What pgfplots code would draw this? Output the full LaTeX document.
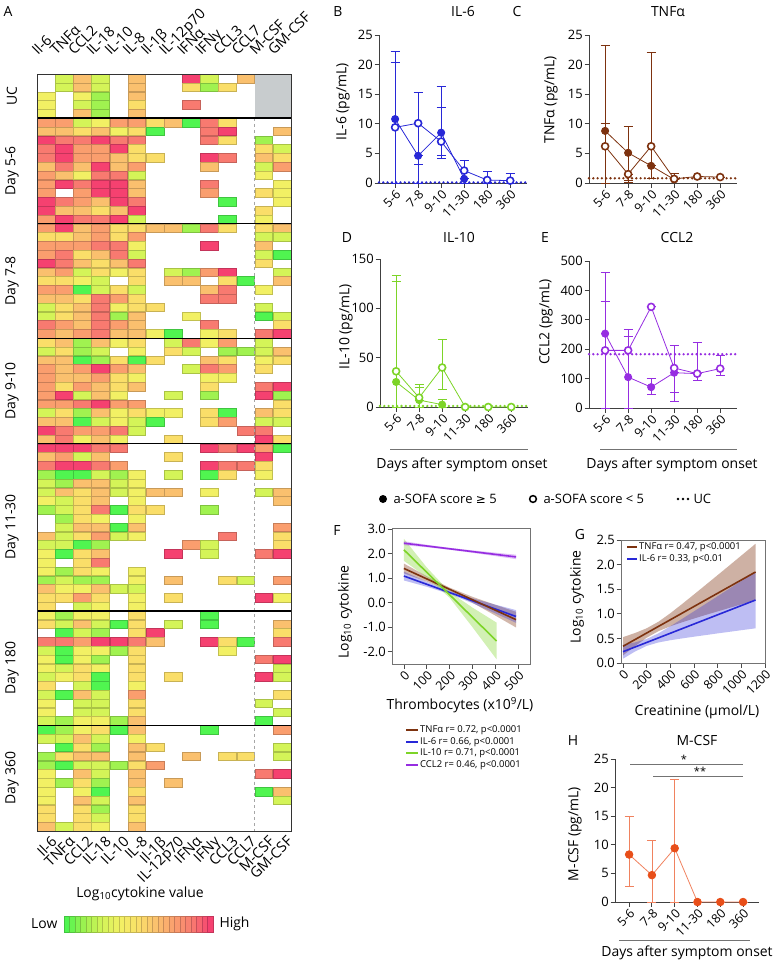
\documentclass[border=0pt]{standalone}
\usepackage{pgfplots}
\pgfplotsset{compat=1.18}
\usepackage{pgfplotstable}
\usepackage{fontspec}
\setmainfont{Open Sans}
\newfontfamily\dejavu{DejaVu Sans}
\newcommand\fs[1]{\fontsize{#1}{#1}\selectfont}

\definecolor{cIL6}{RGB}{40,40,215}
\definecolor{cTNF}{RGB}{125,50,15}
\definecolor{cIL10}{RGB}{125,212,40}
\definecolor{cCCL2}{RGB}{150,45,225}
\definecolor{cMCSF}{RGB}{232,78,25}
\definecolor{cMCSFl}{RGB}{240,130,95}
\definecolor{ucgray}{RGB}{200,204,206}

\pgfplotsset{
  /pgf/number format/assume math mode=true,
  colormap={heat}{rgb255=(80,245,80) rgb255=(160,242,80) rgb255=(212,244,88) rgb255=(242,240,100) rgb255=(250,222,105) rgb255=(250,192,110) rgb255=(250,158,110) rgb255=(248,122,112) rgb255=(245,65,112)},
  gp/.style={scale only axis, axis x line=bottom, axis y line=left,
    axis line style={-, line width=0.9bp, black!75}, tick style={line width=0.9bp, black!75},
    tick align=outside, major tick length=4.5bp,
    xtick={0,...,5}, xticklabels={5-6,7-8,9-10,11-30,180,360},
    xticklabel style={rotate=45, anchor=north east, font=\fs{12.5}, inner sep=1bp},
    yticklabel style={font=\fs{13}, inner sep=1.5bp},
    clip=false, xmin=-0.7, xmax=5.73, width=148bp, ymin=0},
  closed/.style={#1, line width=0.8bp, mark=*, mark size=3.6bp,
    mark options={fill=#1, draw=#1, solid, line width=0.8bp},
    error bars/.cd, y dir=both, y explicit, error bar style={line width=0.8bp, #1},
    error mark options={rotate=90, #1, line width=0.8bp, mark size=4.5bp}},
  open/.style={#1, line width=0.8bp, mark=*, mark size=3.5bp,
    mark options={fill=white, draw=#1, solid, line width=1.6bp},
    error bars/.cd, y dir=both, y explicit, error bar style={line width=0.8bp, #1},
    error mark options={rotate=90, #1, line width=0.8bp, mark size=4.5bp}},
  mcsf/.style={cMCSFl, line width=0.8bp, mark=*, mark size=3.8bp,
    mark options={fill=cMCSF, draw=cMCSF, solid, line width=0.8bp},
    error bars/.cd, y dir=both, y explicit, error bar style={line width=0.8bp, cMCSFl},
    error mark options={rotate=90, cMCSFl, line width=0.8bp, mark size=4.5bp}},
  ucline/.style={#1, line width=2.6bp, line cap=round, dash pattern=on 0bp off 4.3bp},
  reg/.style={scale only axis, axis line style={black!55, line width=0.8bp},
    tick style={black!70, line width=0.8bp}, tick align=outside, major tick length=4.5bp,
    tick pos=left, xticklabel style={rotate=45, anchor=north east, font=\fs{12.5}, inner sep=1bp},
    yticklabel style={font=\fs{13}, inner sep=1.5bp}},
}

\pgfplotstableread{
c0 c1 c2 c3 c4 c5 c6 c7 c8 c9 c10 c11 c12 c13
0 3 6 3 0 6 0 0 9 3 0 6 0 0
0 3 6 3 0 6 0 0 5 2 5 0 0 0
4 0 4 2 0 6 0 0 0 0 0 0 0 0
4 0 3 2 0 5 0 0 8 0 0 0 0 0
4 0 6 2 0 6 0 0 0 0 0 0 0 0
7 7 3 4 7 7 5 6 1 8 5 0 0 0
6 6 5 6 4 5 1 0 0 8 9 0 0 6
9 8 8 9 8 8 0 0 0 8 5 0 2 0
8 9 7 7 9 5 0 0 0 0 0 0 5 3
8 9 7 7 6 5 5 0 0 9 8 0 6 5
6 8 6 9 6 7 0 0 0 6 0 0 3 7
7 6 4 8 8 3 0 0 0 0 0 0 4 0
7 9 8 9 9 6 0 0 0 8 0 0 0 4
7 0 7 9 9 6 0 0 0 7 0 0 5 4
9 8 7 6 9 8 0 0 0 0 1 0 0 4
9 6 6 5 6 9 0 0 0 0 0 0 5 0
7 9 8 8 9 3 0 0 0 0 1 0 4 0
7 9 6 7 5 5 6 6 2 8 5 0 5 6
5 5 6 7 5 7 0 0 0 0 0 0 3 3
7 7 7 8 8 4 0 0 0 9 0 0 6 0
7 8 5 6 8 3 0 0 0 0 0 0 3 1
9 8 6 5 6 8 0 0 0 0 0 0 5 0
6 7 3 5 4 5 0 3 2 7 9 0 0 3
5 5 4 3 0 5 0 6 6 0 5 1 0 6
7 7 1 3 5 3 0 0 0 6 8 0 4 0
6 6 5 8 7 5 0 0 0 8 8 0 0 0
3 5 6 8 4 5 5 0 0 0 0 0 3 0
3 5 6 8 2 6 0 0 4 0 0 0 1 3
8 7 6 8 7 6 0 0 0 8 0 0 0 5
7 6 7 8 6 6 4 1 0 4 5 0 8 9
5 6 2 6 4 5 0 3 8 4 7 0 3 0
3 5 2 3 0 4 0 5 3 0 2 2 3 6
6 6 1 2 5 1 5 0 0 6 5 0 4 5
7 6 7 9 7 6 0 0 3 8 7 0 5 0
7 6 6 7 5 4 0 0 0 4 4 0 0 0
7 5 7 6 5 6 0 0 0 5 0 0 8 9
7 9 3 6 4 0 0 3 0 2 0 0 9 2
7 7 8 9 7 7 0 0 0 0 0 0 0 5
3 5 2 6 4 5 4 4 0 5 1 0 6 5
6 6 1 3 4 3 1 0 0 5 7 0 3 3
9 8 7 7 8 3 0 0 0 0 0 8 8 0
6 8 4 6 4 0 0 5 0 0 0 0 9 5
9 9 9 8 8 0 0 0 0 9 8 9 7 1
6 7 3 6 0 0 0 5 0 0 0 0 9 0
8 9 9 8 7 0 0 0 0 9 8 8 5 0
2 1 1 3 2 4 0 3 0 1 5 0 4 0
3 2 6 6 3 4 0 0 0 0 0 0 0 0
3 6 5 6 3 4 6 6 0 4 0 0 3 6
4 3 5 6 0 4 0 0 0 0 0 0 0 6
2 3 5 8 1 5 5 0 0 2 0 0 0 0
0 2 5 4 0 4 0 0 0 0 0 0 0 0
0 3 6 6 1 6 0 0 0 0 0 0 0 7
6 3 5 7 3 4 0 0 0 0 8 0 0 5
3 3 1 2 0 0 0 0 7 3 0 0 0 5
4 1 5 6 0 0 0 9 0 3 0 0 8 9
4 0 5 8 0 0 0 0 0 0 0 0 0 0
4 2 5 4 0 4 0 0 0 0 0 0 0 0
2 3 2 2 0 4 0 6 0 0 5 3 0 7
6 4 4 6 3 3 0 0 0 0 0 0 0 0
5 5 7 5 0 4 0 5 0 0 0 0 9 4
5 0 3 4 0 4 0 0 0 0 0 0 0 0
4 2 4 4 0 5 0 0 0 1 0 0 0 0
5 3 6 3 1 5 0 3 0 1 0 0 0 6
0 1 3 2 0 5 9 0 0 0 0 0 0 5
8 8 7 9 9 8 6 0 0 9 5 1 0 8
3 1 4 4 2 5 0 0 0 0 4 0 0 0
4 1 4 2 0 5 0 0 0 0 0 0 8 9
4 3 5 4 0 5 0 0 0 0 0 0 0 3
3 4 5 1 0 5 0 5 0 0 0 0 9 3
5 0 3 1 0 4 0 0 0 0 0 0 0 0
3 1 6 3 0 7 0 0 0 0 0 0 0 5
4 0 3 3 0 5 0 0 0 0 0 0 3 0
4 0 3 3 0 5 0 0 0 0 0 0 0 3
3 2 4 4 2 6 0 0 0 0 0 0 1 0
1 2 4 5 1 6 0 0 0 1 0 0 0 7
3 3 6 3 0 4 0 0 0 0 0 0 0 0
0 1 5 2 0 6 5 0 0 0 0 0 0 3
2 5 6 6 0 6 0 0 6 0 5 5 0 3
2 1 3 3 2 5 7 0 0 0 0 0 0 0
4 0 6 3 0 6 0 0 0 0 0 0 8 9
4 2 5 2 0 6 0 6 0 0 0 0 0 0
4 0 4 1 0 5 0 0 0 0 0 0 1 6
4 0 6 3 0 6 0 0 0 0 0 0 0 3
5 0 5 2 0 5 0 0 0 0 0 0 0 0
5 0 5 3 0 5 0 0 0 0 0 0 0 0
6 3 5 4 0 6 0 0 0 0 0 0 0 0
}\heat

\begin{document}
\begin{tikzpicture}
\useasboundingbox (0,0) rectangle (775bp,-963bp);

% ---------------- Panel A: heatmap ----------------
\begin{axis}[at={(37bp,-831bp)}, anchor=south west, scale only axis, width=254bp, height=757bp,
  xmin=-0.5, xmax=13.5, ymin=-0.5, ymax=85.5, y dir=reverse, xtick=\empty, ytick=\empty,
  axis line style={draw=none},
  colormap name=heat, point meta min=1, point meta max=9]
\fill[ucgray] (axis cs:11.5,-0.5) rectangle (axis cs:13.5,4.5);
\pgfplotsinvokeforeach{0,...,13}{
  \addplot[scatter, only marks, mark=square*, mark size=4.3bp, mark options={xscale=2.07},
    point meta=explicit, restrict y to domain=-1:100]
    table[x expr=#1, y expr={\thisrow{c#1}==0 ? -50 : \coordindex}, meta=c#1] {\heat};
}
\end{axis}
\draw[black!35, dashed, line width=0.6bp] (254.7bp,-118bp) -- (254.7bp,-831bp);
\foreach \yy in {118.0,223.6,338.1,443.7,610.9,725.4}{
  \draw[black, line width=1.2bp] (37bp,{-\yy*1bp}) -- (291bp,{-\yy*1bp});
}
\draw[black!80, line width=0.9bp] (37bp,-74bp) rectangle (291bp,-831bp);

\node[font=\fs{14}] at (8bp,-12bp) {A};
\foreach \k/\lab in {0/Il-6,1/TNFα,2/CCL2,3/IL-18,4/IL-10,5/IL-8,6/Il-1β,7/IL-12p70,8/IFNα,9/IFNγ,10/CCL3,11/CCL7,12/M-CSF,13/GM-CSF}{
  \node[rotate=45, anchor=base west, font=\fs{14.5}, inner sep=0pt] at ({(37+18.143*(\k+0.5)-8)*1bp},-56bp) {\lab};
  \node[rotate=45, anchor=north east, font=\fs{14.5}, inner sep=0pt] at ({(37+18.143*(\k+0.5)+4)*1bp},-835bp) {\lab};
}
\node[rotate=90, font=\fs{14}] at (12bp,-96bp) {UC};
\node[rotate=90, font=\fs{14}] at (12bp,-171bp) {Day 5-6};
\node[rotate=90, font=\fs{14}] at (12bp,-281bp) {Day 7-8};
\node[rotate=90, font=\fs{14}] at (12bp,-391bp) {Day 9-10};
\node[rotate=90, font=\fs{14}] at (12bp,-527bp) {Day 11-30};
\node[rotate=90, font=\fs{14}] at (12bp,-668bp) {Day 180};
\node[rotate=90, font=\fs{14}] at (12bp,-778bp) {Day 360};
\node[font=\fs{14}] at (140bp,-894bp) {Log\textsubscript{10}cytokine value};
\node[anchor=east, font=\fs{14}] at (61bp,-924bp) {Low};
\node[anchor=west, font=\fs{14}] at (216bp,-924bp) {High};

\begin{axis}[at={(64bp,-932bp)}, anchor=south west, scale only axis, width=149bp, height=16bp,
  xmin=0.5, xmax=27.5, ymin=-0.5, ymax=0.5, hide axis, colormap name=heat, point meta min=1, point meta max=9]
\addplot[scatter, only marks, mark=square*, mark size=8bp, mark options={xscale=0.35}, point meta=explicit]
  table[x=x, y expr=0, meta=m] {
x m
1 1.00
2 1.31
3 1.62
4 1.92
5 2.23
6 2.54
7 2.85
8 3.15
9 3.46
10 3.77
11 4.08
12 4.38
13 4.69
14 5.00
15 5.31
16 5.62
17 5.92
18 6.23
19 6.54
20 6.85
21 7.15
22 7.46
23 7.77
24 8.08
25 8.38
26 8.69
27 9.00
};
\end{axis}

% ---------------- Panel B: IL-6 ----------------
\begin{axis}[gp, at={(379bp,-183bp)}, anchor=south west, height=148bp, ymax=25, ytick={0,5,...,25}]
\addplot[ucline=cIL6] coordinates {(-0.7,0.1) (5.73,0.1)};
\addplot[closed=cIL6] coordinates {(0,10.8) += (0,11.4) -= (0,10.8) (1,4.6) += (0,0) -= (0,1.5) (2,8.5) += (0,7.9) -= (0,3.8) (3,0.7) += (0,0) -= (0,0)};
\addplot[open=cIL6] coordinates {(0,9.4) += (0,10.9) -= (0,9.4) (1,10.1) += (0,5.2) -= (0,10.1) (2,7.0) += (0,5.8) -= (0,2.9) (3,2.1) += (0,1.8) -= (0,2.1) (4,0.5) += (0,1.5) -= (0,0.5) (5,0.4) += (0,1.2) -= (0,0.4)};
\end{axis}
\node[font=\fs{14}] at (338bp,-12bp) {B};
\node[font=\fs{14}] at (463bp,-12bp) {IL-6};
\node[rotate=90, font=\fs{14}] at (343bp,-102bp) {IL-6 (pg/mL)};

% ---------------- Panel C: TNFa ----------------
\begin{axis}[gp, at={(589bp,-183bp)}, anchor=south west, height=148bp, ymax=25, ytick={0,5,...,25}]
\addplot[ucline=cTNF] coordinates {(-0.7,0.8) (5.73,0.8)};
\addplot[closed=cTNF] coordinates {(0,8.8) += (0,14.5) -= (0,8.8) (1,5.1) += (0,4.5) -= (0,5.0) (2,2.9) += (0,0) -= (0,0) (3,0.6) += (0,1.1) -= (0,0)};
\addplot[open=cTNF] coordinates {(0,6.2) += (0,3.9) -= (0,6.2) (1,1.5) += (0,0) -= (0,1.0) (2,6.2) += (0,15.8) -= (0,5.4) (3,0.7) += (0,1.0) -= (0,0) (4,1.1) += (0,0) -= (0,0) (5,1.0) += (0,0) -= (0,0)};
\end{axis}
\node[font=\fs{14}] at (517bp,-12bp) {C};
\node[font=\fs{14}] at (668bp,-12bp) {TNFα};
\node[rotate=90, font=\fs{14}] at (551bp,-100bp) {TNFα (pg/mL)};

% ---------------- Panel D: IL-10 ----------------
\begin{axis}[gp, at={(380bp,-407bp)}, anchor=south west, height=148bp, ymax=150, ytick={0,50,100,150}]
\addplot[ucline=cIL10] coordinates {(-0.7,1) (5.73,1)};
\addplot[closed=cIL10] coordinates {(0,25.4) += (0,102) -= (0,25.4) (1,7) += (0,13) -= (0,0) (2,2.4) += (0,5.1) -= (0,2.4)};
\addplot[open=cIL10] coordinates {(0,36.2) += (0,97.6) -= (0,36.2) (1,9.5) += (0,13.5) -= (0,9.5) (2,40) += (0,28.4) -= (0,22) (3,0) += (0,0) -= (0,0) (4,0) += (0,0) -= (0,0) (5,0) += (0,0) -= (0,0)};
\end{axis}
\node[font=\fs{14}] at (347bp,-238bp) {D};
\node[font=\fs{14}] at (459bp,-238bp) {IL-10};
\node[rotate=90, font=\fs{14}] at (346bp,-327bp) {IL-10 (pg/mL)};
\draw[black!55, line width=0.8bp] (390bp,-449bp) -- (528bp,-449bp);
\node[font=\fs{14}] at (462bp,-465bp) {Days after symptom onset};

% ---------------- Panel E: CCL2 ----------------
\begin{axis}[gp, at={(589bp,-408bp)}, anchor=south west, height=147bp, ymax=500, ytick={0,100,...,500}]
\addplot[ucline=cCCL2] coordinates {(-0.7,183) (5.73,183)};
\addplot[closed=cCCL2] coordinates {(0,253) += (0,207) -= (0,253) (1,105) += (0,161) -= (0,105) (2,71) += (0,31) -= (0,25) (3,120) += (0,0) -= (0,96) (4,117) += (0,0) -= (0,0)};
\addplot[open=cCCL2] coordinates {(0,196) += (0,166) -= (0,196) (1,196) += (0,48) -= (0,196) (2,344) += (0,0) -= (0,0) (3,136) += (0,77) -= (0,82) (4,117) += (0,107) -= (0,23) (5,134) += (0,44) -= (0,22)};
\end{axis}
\node[font=\fs{14}] at (545bp,-238bp) {E};
\node[font=\fs{14}] at (677bp,-238bp) {CCL2};
\node[rotate=90, font=\fs{14}] at (546bp,-322bp) {CCL2 (pg/mL)};
\draw[black!55, line width=0.8bp] (600bp,-449bp) -- (737bp,-449bp);
\node[font=\fs{14}] at (672bp,-465bp) {Days after symptom onset};

% ---------------- legend row ----------------
\fill (383bp,-499bp) circle (4bp);
\node[anchor=west, font=\fs{13}] at (390bp,-499bp) {a-SOFA score {\dejavu\fs{12}≥} 5};
\draw[line width=1.5bp] (533bp,-499bp) circle (3.4bp);
\node[anchor=west, font=\fs{13}] at (540bp,-499bp) {a-SOFA score < 5};
\fill (678bp,-499bp) circle (1.3bp);
\fill (683bp,-499bp) circle (1.3bp);
\fill (688bp,-499bp) circle (1.3bp);
\node[anchor=west, font=\fs{13}] at (690bp,-499bp) {UC};

% ---------------- Panel F ----------------
\begin{axis}[reg, at={(392bp,-664bp)}, anchor=south west, width=138bp, height=136bp,
  xmin=-52, xmax=551, ymin=-2.5, ymax=3.05, xtick={0,100,...,500}, xticklabels={0,100,200,300,400,500},
  ytick={-2,...,3}, yticklabels={-2.0,-1.0,0.0,1.0,2.0,3.0}]
\addplot[fill=cTNF, fill opacity=0.35, draw=none] coordinates {(0,1.60) (100,1.084) (200,0.617) (300,0.240) (400,-0.086) (490,-0.37) (490,-1.01) (400,-0.526) (300,0.000) (200,0.477) (100,0.864) (0,1.20)};
\addplot[fill=cIL6, fill opacity=0.3, draw=none] coordinates {(0,1.27) (100,0.853) (200,0.477) (300,0.18) (400,-0.077) (490,-0.30) (490,-0.82) (400,-0.437) (300,-0.02) (200,0.357) (100,0.653) (0,0.91)};
\addplot[fill=cIL10, fill opacity=0.35, draw=none] coordinates {(0,2.61) (100,1.44) (200,0.44) (300,-0.20) (405,-0.81) (405,-2.31) (300,-1.00) (200,0.20) (100,1.04) (0,1.71)};
\addplot[fill=cCCL2, fill opacity=0.3, draw=none] coordinates {(0,2.51) (100,2.366) (200,2.241) (300,2.137) (400,2.043) (490,1.96) (490,1.78) (400,1.903) (300,2.037) (200,2.161) (100,2.266) (0,2.35)};
\addplot[cIL6, line width=1.6bp] coordinates {(0,1.09) (490,-0.56)};
\addplot[cTNF, line width=1.6bp] coordinates {(0,1.40) (490,-0.69)};
\addplot[cIL10, line width=1.6bp] coordinates {(0,2.16) (405,-1.56)};
\addplot[cCCL2, line width=1.6bp] coordinates {(0,2.43) (490,1.87)};
\end{axis}
\node[font=\fs{14}] at (337bp,-531bp) {F};
\node[rotate=90, font=\fs{14}] at (345bp,-612bp) {Log\textsubscript{10} cytokine};
\node[font=\fs{14}] at (460bp,-705bp) {Thrombocytes (x10\textsuperscript{9}/L)};
\draw[cTNF, line width=1.5bp] (406bp,-730bp) -- (418bp,-730bp);
\node[anchor=west, font=\fs{9.5}, inner sep=1bp] at (419bp,-730bp) {TNFα r= 0.72, p<0.0001};
\draw[cIL6, line width=1.5bp] (406bp,-742bp) -- (418bp,-742bp);
\node[anchor=west, font=\fs{9.5}, inner sep=1bp] at (419bp,-742bp) {IL-6 r= 0.66, p<0.0001};
\draw[cIL10, line width=1.5bp] (406bp,-753bp) -- (418bp,-753bp);
\node[anchor=west, font=\fs{9.5}, inner sep=1bp] at (419bp,-753bp) {IL-10 r= 0.71, p<0.0001};
\draw[cCCL2, line width=1.5bp] (406bp,-765bp) -- (418bp,-765bp);
\node[anchor=west, font=\fs{9.5}, inner sep=1bp] at (419bp,-765bp) {CCL2 r= 0.46, p<0.0001};

% ---------------- Panel G ----------------
\begin{axis}[reg, at={(621bp,-663bp)}, anchor=south west, width=144bp, height=123bp,
  xmin=-17, xmax=1200, ymin=0, ymax=2.5, xtick={0,200,...,1200}, xticklabels={0,200,400,600,800,1000,1200},
  ytick={0,0.5,...,2.5}, yticklabels={0.0,0.5,1.0,1.5,2.0,2.5}]
\addplot[fill=cTNF, fill opacity=0.38, draw=none] coordinates {(0,0.526) (100,0.608) (200,0.706) (300,0.840) (400,1.012) (500,1.200) (600,1.394) (700,1.590) (800,1.787) (900,1.985) (1000,2.184) (1120,2.423) (1120,1.277) (1000,1.192) (900,1.121) (800,1.049) (700,0.978) (600,0.904) (500,0.828) (400,0.746) (300,0.648) (200,0.514) (100,0.342) (0,0.154)};
\addplot[fill=cIL6, fill opacity=0.3, draw=none] coordinates {(0,0.372) (100,0.417) (200,0.488) (300,0.604) (400,0.747) (500,0.898) (600,1.051) (700,1.204) (800,1.358) (900,1.514) (1000,1.669) (1120,1.855) (1120,0.705) (1000,0.667) (900,0.634) (800,0.602) (700,0.568) (600,0.535) (500,0.500) (400,0.463) (300,0.418) (200,0.348) (100,0.231) (0,0.088)};
\addplot[cTNF, line width=1.6bp] coordinates {(0,0.34) (1120,1.85)};
\addplot[cIL6, line width=1.6bp] coordinates {(0,0.23) (1120,1.28)};
\end{axis}
\node[font=\fs{14}] at (580bp,-535bp) {G};
\node[rotate=90, font=\fs{14}] at (577bp,-597bp) {Log\textsubscript{10} cytokine};
\node[font=\fs{14}] at (697bp,-712bp) {Creatinine (µmol/L)};
\draw[cTNF, line width=1.5bp] (627bp,-547bp) -- (637bp,-547bp);
\node[anchor=west, font=\fs{9.5}, inner sep=1bp] at (638bp,-547bp) {TNFα r= 0.47, p<0.0001};
\draw[cIL6, line width=1.5bp] (627bp,-559bp) -- (637bp,-559bp);
\node[anchor=west, font=\fs{9.5}, inner sep=1bp] at (638bp,-559bp) {IL-6 r= 0.33, p<0.01};

% ---------------- Panel H: M-CSF ----------------
\begin{axis}[gp, at={(615bp,-902bp)}, anchor=south west, width=144bp, height=143bp, xmin=-0.62, xmax=5.70, ymax=25, ytick={0,5,...,25}]
\addplot[mcsf] coordinates {(0,8.3) += (0,6.6) -= (0,5.6) (1,4.7) += (0,6.0) -= (0,4.7) (2,9.4) += (0,12.1) -= (0,9.4) (3,0) += (0,0) -= (0,0) (4,0) += (0,0) -= (0,0) (5,0) += (0,0) -= (0,0)};
\end{axis}
\node[font=\fs{14}] at (573bp,-741bp) {H};
\node[font=\fs{14}] at (697bp,-741bp) {M-CSF};
\node[rotate=90, font=\fs{14}] at (575bp,-834bp) {M-CSF (pg/mL)};
\draw[black!55, line width=0.7bp] (630bp,-764bp) -- (743bp,-764bp);
\node[font=\fs{11}] at (684bp,-759bp) {*};
\draw[black!55, line width=0.7bp] (653bp,-776bp) -- (743bp,-776bp);
\node[font=\fs{11}] at (700bp,-771bp) {**};
\draw[black!55, line width=0.8bp] (619bp,-940bp) -- (750bp,-940bp);
\node[font=\fs{14}] at (687bp,-953bp) {Days after symptom onset};
\end{tikzpicture}
\end{document}
